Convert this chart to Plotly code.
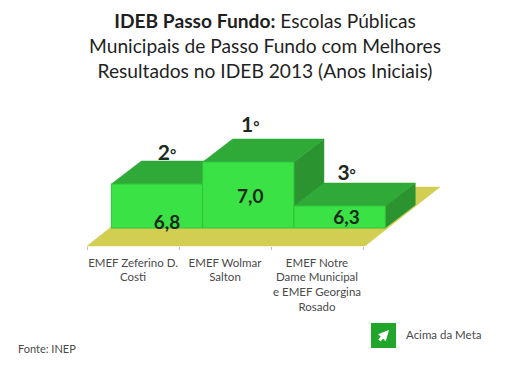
import plotly.graph_objects as go

schools = ["EMEF Zeferino D.<br>Costi", "EMEF Wolmar<br>Salton",
           "EMEF Notre<br>Dame Municipal<br>e EMEF Georgina<br>Rosado"]
scores = [6.8, 7.0, 6.3]
score_labels = ["6,8", "7,0", "6,3"]
ranks = [2, 1, 3]
rank_labels = ["2", "1", "3"]

W, H = 520, 390
UX, UY = 91.3, 22.0          # pixels per bar / per podium step
X0, Y0 = 157.0, 228.0        # pixel position of first bar centre / podium base
DX, DY = 30 / UX, 23 / UY    # depth of the extrusion
levels = [4 - r for r in ranks]

GREEN = "#3BE246"; TOP = "#2FA937"; SIDE = "#2B9430"; FLOOR = "#D2CE52"
INK = "#1B2A1B"; GREY = "#4A4A4A"
FONT = "Lato"


def fx(px):
    return (px - X0) / UX


def fy(py):
    return (Y0 - py) / UY


fig = go.Figure()


def face(xs, ys, color):
    fig.add_trace(go.Scatter(x=xs + xs[:1], y=ys + ys[:1], mode="lines", fill="toself",
                             fillcolor=color, line=dict(color=color, width=0.5),
                             hoverinfo="skip", showlegend=False))


# floor
fl, fb = fx(87), fy(246)
fr, ft = fx(440), fy(187)
fw = fx(365) - fl
face([fl, fl + fw, fr, fr - fw], [fb, fb, ft, ft], FLOOR)

# extruded top and side faces
for i, h in enumerate(levels):
    a, b = i - 0.5, i + 0.5
    face([b, b + DX, b + DX, b], [0, DY, h + DY, h], SIDE)
    face([a, b, b + DX, a + DX], [h, h, h + DY, h + DY], TOP)

# front faces
fig.add_trace(go.Bar(x=[0, 1, 2], y=levels, width=1, marker=dict(color=GREEN, line=dict(color="#30C43A", width=1)),
                     xaxis="x2", yaxis="y2", hoverinfo="skip", showlegend=False))

label_shift = [10, 2, 7]     # horizontal label offset, pixels

# score labels inside the bars
label_frac = [0.09, 0.455, 0.41]
fig.add_trace(go.Scatter(x=[i + s / UX for i, s in enumerate(label_shift)],
                         y=[h * f for h, f in zip(levels, label_frac)],
                         mode="text", text=score_labels,
                         textfont=dict(family=FONT, size=19, color=INK, weight="bold"),
                         xaxis="x2", yaxis="y2", hoverinfo="skip", showlegend=False))

# rank labels above the bars
rank_lift = [-4, 2, -2]
fig.add_trace(go.Scatter(x=[i + s / UX for i, s in enumerate(label_shift)],
                         y=[h + DY + d / UY for h, d in zip(levels, rank_lift)],
                         mode="text",
                         text=[t + "<span style='font-size:15px'>°</span>" for t in rank_labels],
                         textposition="top center",
                         textfont=dict(family=FONT, size=21, color=INK, weight="bold"),
                         xaxis="x2", yaxis="y2", hoverinfo="skip", showlegend=False))

# category axis carrier, running along the floor's front edge
fig.add_trace(go.Scatter(x=schools, y=[0, 0, 0], mode="none", xaxis="x3", yaxis="y2",
                         hoverinfo="skip", showlegend=False))

xr = [fx(0), fx(W)]
yr = [fy(H), fy(0)]
CU = 92.0
plain = dict(visible=False, fixedrange=True)
fig.update_layout(
    width=W, height=H, margin=dict(l=0, r=0, t=0, b=0),
    paper_bgcolor="white", plot_bgcolor="white",
    font=dict(family=FONT, color=GREY),
    xaxis=dict(range=xr, **plain),
    yaxis=dict(range=yr, **plain),
    xaxis2=dict(range=xr, overlaying="x", **plain),
    yaxis2=dict(range=yr, overlaying="y", **plain),
    xaxis3=dict(type="category", categoryorder="array", categoryarray=schools,
                range=[(0 - 87) / CU - 0.5, (W - 87) / CU - 0.5], overlaying="x",
                anchor="free", position=(H - 246) / H, side="bottom",
                showgrid=False, zeroline=False, showline=False, fixedrange=True,
                tickson="boundaries", ticks="outside", ticklen=3, tickcolor="#BBBBBB",
                ticklabelstandoff=8,
                tickangle=0, tickfont=dict(family=FONT, size=11.5, color=GREY)),
    title=dict(text="<b>IDEB Passo Fundo:</b> Escolas Públicas<br>Municipais de Passo Fundo com Melhores"
                    "<br>Resultados no IDEB 2013 (Anos Iniciais)",
               x=265 / W, xanchor="center", y=1 - 28 / H, yanchor="top",
               font=dict(family=FONT, size=19.2, color="#1F1F1F")),
    shapes=[dict(type="rect", xref="paper", yref="paper", x0=371 / W, x1=396 / W,
                 y0=1 - 348 / H, y1=1 - 323 / H, fillcolor="#22A52B", line=dict(width=0))],
    annotations=[
        dict(text="Fonte: INEP", xref="paper", yref="paper", x=16 / W, y=1 - 348 / H,
             xanchor="left", yanchor="middle", showarrow=False,
             font=dict(family=FONT, size=11, color=GREY)),
        dict(text="Acima da Meta", xref="paper", yref="paper", x=404 / W, y=1 - 334 / H,
             xanchor="left", yanchor="middle", showarrow=False,
             font=dict(family=FONT, size=11.5, color=GREY)),
        dict(text="", xref="paper", yref="paper", x=389 / W, y=1 - 330 / H,
             axref="pixel", ayref="pixel", ax=-11, ay=12, showarrow=True,
             arrowhead=2, arrowsize=0.7, arrowwidth=3, arrowcolor="white"),
    ],
)

fig.write_html("out.html", config={"displayModeBar": False},
               post_script="document.body.style.margin='0';")
